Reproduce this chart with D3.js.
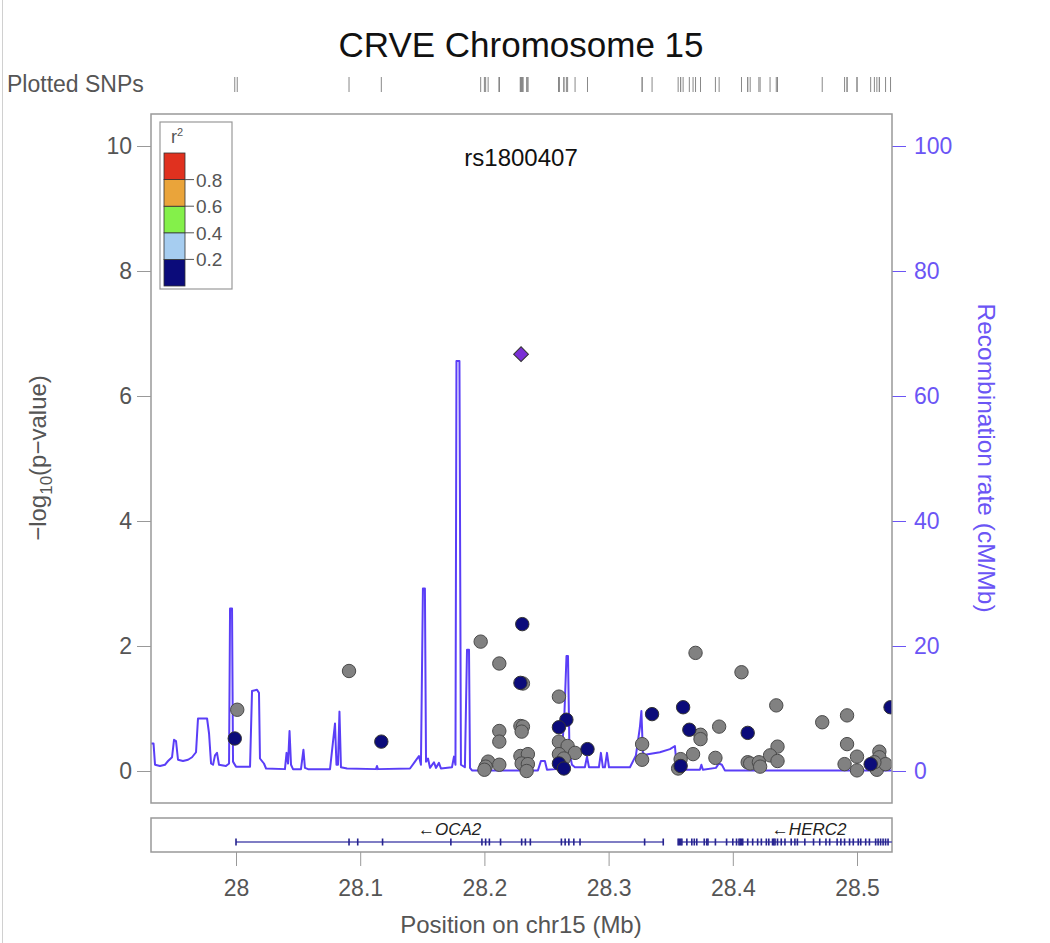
<!DOCTYPE html>
<html><head><meta charset="utf-8">
<script src="https://cdn.jsdelivr.net/npm/d3@7"></script>
<style>
html,body{margin:0;padding:0;background:#fff;}
text{font-family:"Liberation Sans",Arial,sans-serif;}
</style></head>
<body><div id="chart"></div>
<script>
// ---------------- DATA ----------------
const title = "CRVE Chromosome 15";
const leadSnp = {name: "rs1800407", pos: 28.2295, logp: 6.67};
const xTicks = [28, 28.1, 28.2, 28.3, 28.4, 28.5];
const pTicks = [0, 2, 4, 6, 8, 10];
const rTicks = [0, 20, 40, 60, 80, 100];
const legendBreaks = ["0.2", "0.4", "0.6", "0.8"];
const legendColors = ["#0b0b7a", "#a6cdf0", "#84f04a", "#eaa43a", "#e0311f"];

// SNPs with r2 < 0.2 (navy)
const navyPos  = [27.999, 28.117, 28.2305, 28.229, 28.266, 28.260, 28.283, 28.260, 28.264, 28.335, 28.360, 28.365, 28.412, 28.358, 28.511, 28.527];
const navyLogP = [0.52, 0.47, 2.35, 1.41, 0.82, 0.70, 0.35, 0.12, 0.04, 0.91, 1.02, 0.66, 0.61, 0.08, 0.11, 1.02];
// SNPs without LD information (grey)
const greyPos  = [28.001, 28.091, 28.197, 28.212, 28.231, 28.260, 28.212, 28.212, 28.229, 28.231, 28.230, 28.260, 28.267, 28.273, 28.260, 28.264, 28.203, 28.201, 28.200, 28.212, 28.229, 28.235, 28.230, 28.235, 28.234, 28.327, 28.327, 28.370, 28.407, 28.374, 28.374, 28.389, 28.435, 28.436, 28.430, 28.436, 28.368, 28.358, 28.356, 28.386, 28.412, 28.414, 28.421, 28.422, 28.472, 28.492, 28.492, 28.500, 28.490, 28.500, 28.518, 28.518, 28.516, 28.523, 28.514];
const greyLogP = [0.98, 1.60, 2.07, 1.72, 1.40, 1.19, 0.64, 0.47, 0.72, 0.71, 0.63, 0.47, 0.40, 0.29, 0.27, 0.20, 0.15, 0.07, 0.02, 0.10, 0.24, 0.27, 0.12, 0.11, 0.00, 0.43, 0.18, 1.89, 1.58, 0.58, 0.51, 0.71, 1.05, 0.39, 0.25, 0.16, 0.27, 0.19, 0.04, 0.21, 0.14, 0.12, 0.14, 0.07, 0.78, 0.89, 0.43, 0.23, 0.11, 0.01, 0.31, 0.22, 0.02, 0.11, 0.14];

// Recombination rate (cM/Mb)
const recPos = [27.9316, 27.9336, 27.9348, 27.9388, 27.9428, 27.9453, 27.9485, 27.9501, 27.9517, 27.9533, 27.9573, 27.9614, 27.9646, 27.9678, 27.9694, 27.9767, 27.9783, 27.9799, 27.9815, 27.9831, 27.9847, 27.9863, 27.9919, 27.9944, 27.9952, 27.9968, 27.9976, 28.0000, 28.0113, 28.0129, 28.0169, 28.0185, 28.0193, 28.0225, 28.0242, 28.0394, 28.0407, 28.0419, 28.0431, 28.0443, 28.0459, 28.0523, 28.0543, 28.0555, 28.0580, 28.0757, 28.0797, 28.0809, 28.0821, 28.0833, 28.0845, 28.0894, 28.1127, 28.1135, 28.1143, 28.1401, 28.1441, 28.1473, 28.1489, 28.1505, 28.1521, 28.1530, 28.1546, 28.1562, 28.1594, 28.1610, 28.1634, 28.1650, 28.1739, 28.1755, 28.1767, 28.1775, 28.1799, 28.1811, 28.1843, 28.1860, 28.1876, 28.1884, 28.1900, 28.2431, 28.2455, 28.2487, 28.2504, 28.2576, 28.2592, 28.2624, 28.2644, 28.2661, 28.2673, 28.2685, 28.2705, 28.2729, 28.2809, 28.2826, 28.2842, 28.2922, 28.2938, 28.2954, 28.2970, 28.2987, 28.3003, 28.3043, 28.3172, 28.3220, 28.3252, 28.3264, 28.3276, 28.3292, 28.3413, 28.3494, 28.3534, 28.3550, 28.3735, 28.3747, 28.3759, 28.3864, 28.3888, 28.3912, 28.3936, 28.5281];
const recRate = [4.4, 4.4, 1.0, 0.8, 1.0, 1.6, 2.2, 5.0, 4.8, 1.8, 1.6, 1.8, 2.2, 3.0, 8.4, 8.4, 6.0, 1.2, 1.0, 2.5, 2.9, 1.0, 0.8, 1.2, 26.0, 26.0, 1.5, 0.7, 0.7, 12.8, 13.0, 12.5, 2.0, 1.2, 0.4, 0.3, 2.9, 1.2, 6.4, 1.0, 0.3, 0.3, 3.4, 0.5, 0.3, 0.3, 7.6, 1.0, 1.0, 9.5, 0.6, 0.4, 0.3, 0.8, 0.3, 0.4, 1.5, 2.4, 1.0, 29.2, 29.2, 1.5, 2.0, 0.5, 1.4, 0.5, 1.3, 0.4, 0.6, 2.3, 1.0, 65.6, 65.6, 1.0, 0.6, 19.4, 19.4, 0.5, 0.1, 0.1, 1.6, 1.6, 0.2, 0.3, 1.6, 3.0, 9.0, 18.4, 18.4, 3.0, 1.0, 0.6, 0.6, 2.3, 0.6, 0.6, 2.9, 0.6, 0.6, 2.9, 0.6, 0.6, 0.6, 2.5, 7.0, 9.6, 3.0, 2.6, 3.0, 3.5, 4.0, 0.2, 0.2, 1.0, 0.2, 0.5, 1.2, 1.0, 0.1, 0.1];

// Genes
const geneNames  = ["OCA2", "HERC2"];
const geneStarts = [28.000, 28.356];
const geneEnds   = [28.344, 28.567];
const oca2Exons  = [28.000, 28.091, 28.098, 28.118, 28.173, 28.198, 28.201, 28.204, 28.213, 28.230, 28.233, 28.237, 28.262, 28.265, 28.268, 28.272, 28.277, 28.329, 28.344];
const herc2Exons = [28.356, 28.357, 28.358, 28.359, 28.363, 28.367, 28.369, 28.371, 28.377, 28.379, 28.380, 28.386, 28.395, 28.400, 28.403, 28.405, 28.406, 28.407, 28.408, 28.412, 28.416, 28.420, 28.423, 28.427, 28.429, 28.432, 28.433, 28.434, 28.436, 28.439, 28.442, 28.447, 28.450, 28.452, 28.458, 28.465, 28.470, 28.475, 28.478, 28.484, 28.487, 28.490, 28.494, 28.497, 28.501, 28.503, 28.507, 28.510, 28.515, 28.517, 28.519, 28.521, 28.523, 28.525];

// ---------------- DRAW ----------------
const W = 1050, H = 943;
const L = 151, R = 892, T = 114, B = 803;
const recColor = "#5a3ef7", recText = "#6b55f5", axisText = "#555";
const FF = "Liberation Sans, Arial, sans-serif";

const svg = d3.select("#chart").append("svg").attr("width", W).attr("height", H);
svg.append("rect").attr("width", W).attr("height", H).attr("fill", "#fff");
svg.append("line").attr("x1", 2.5).attr("x2", 2.5).attr("y1", 0).attr("y2", H).attr("stroke", "#d0d0d0");

const x = d3.scaleLinear().domain([27.93156, 28.52818]).range([L, R]);
const yP = d3.scaleLinear().domain([-0.512, 10.512]).range([B, T]);
const yR = d3.scaleLinear().domain([-5.12, 105.12]).range([B, T]);

// title
svg.append("text").attr("x", 521).attr("y", 57).attr("text-anchor", "middle")
  .attr("font-size", 35).attr("fill", "#111").text(title);

// plotted SNPs rug
svg.append("text").attr("x", 7).attr("y", 92).attr("font-size", 23).attr("fill", "#555").text("Plotted SNPs");
const allPos = greyPos.concat(navyPos, [leadSnp.pos]);
svg.append("g").selectAll("line").data(allPos).join("line")
  .attr("x1", d => x(d)).attr("x2", d => x(d)).attr("y1", 77).attr("y2", 92)
  .attr("stroke", "#888").attr("stroke-width", 1);

// clip
svg.append("clipPath").attr("id", "clip").append("rect").attr("x", L).attr("y", T).attr("width", R - L).attr("height", B - T);

// left axis
const gL = svg.append("g").attr("transform", `translate(${L},0)`)
  .call(d3.axisLeft(yP).tickValues(pTicks).tickSize(14).tickPadding(5));
gL.select(".domain").remove();
gL.selectAll("line").attr("stroke", "#999");
gL.selectAll("text").attr("font-size", 23).attr("fill", axisText).style("font-family", FF);

// right axis
const gR = svg.append("g").attr("transform", `translate(${R},0)`)
  .call(d3.axisRight(yR).tickValues(rTicks).tickSize(14).tickPadding(8));
gR.select(".domain").remove();
gR.selectAll("line").attr("stroke", recText);
gR.selectAll("text").attr("font-size", 23).attr("fill", recText).style("font-family", FF);

// axis titles
const yl = svg.append("text").attr("transform", "translate(46,458) rotate(-90)")
  .attr("text-anchor", "middle").attr("font-size", 24).attr("fill", axisText);
yl.append("tspan").text("\u2212log");
yl.append("tspan").attr("font-size", 17).attr("dy", 6).text("10");
yl.append("tspan").attr("dy", -6).text("(p\u2212value)");

svg.append("text").attr("transform", "translate(978,458) rotate(90)")
  .attr("text-anchor", "middle").attr("font-size", 24.5).attr("fill", recText)
  .text("Recombination rate (cM/Mb)");

// recombination line
const recData = recPos.map((p, i) => [p, recRate[i]]);
svg.append("path").datum(recData).attr("clip-path", "url(#clip)")
  .attr("fill", "none").attr("stroke", recColor).attr("stroke-width", 2).attr("stroke-linejoin", "round")
  .attr("d", d3.line().x(d => x(d[0])).y(d => yR(d[1])));

// points
const gPts = svg.append("g").attr("clip-path", "url(#clip)");
gPts.selectAll("circle.g").data(greyPos.map((p, i) => [p, greyLogP[i]])).join("circle")
  .attr("class", "g").attr("cx", d => x(d[0])).attr("cy", d => yP(d[1])).attr("r", 6.7)
  .attr("fill", "#818181").attr("stroke", "#4a4a4a").attr("stroke-width", 1);
gPts.selectAll("circle.n").data(navyPos.map((p, i) => [p, navyLogP[i]])).join("circle")
  .attr("class", "n").attr("cx", d => x(d[0])).attr("cy", d => yP(d[1])).attr("r", 6.7)
  .attr("fill", legendColors[0]).attr("stroke", "#333").attr("stroke-width", 1);
gPts.append("path").attr("d", d3.symbol(d3.symbolSquare, 110)())
  .attr("transform", `translate(${x(leadSnp.pos)},${yP(leadSnp.logp)}) rotate(45)`)
  .attr("fill", "#7a2fd6").attr("stroke", "#333").attr("stroke-width", 1);

// lead label
svg.append("text").attr("x", x(leadSnp.pos)).attr("y", 166).attr("text-anchor", "middle")
  .attr("font-size", 24).attr("fill", "#111").text(leadSnp.name);

// plot box
svg.append("rect").attr("x", L).attr("y", T).attr("width", R - L).attr("height", B - T)
  .attr("fill", "none").attr("stroke", "#999").attr("stroke-width", 1.5);

// legend
const lg = svg.append("g");
lg.append("rect").attr("x", 160).attr("y", 122).attr("width", 72).attr("height", 167)
  .attr("fill", "#fff").attr("stroke", "#999").attr("stroke-width", 1.2);
const lt = lg.append("text").attr("x", 171).attr("y", 143).attr("font-size", 18).attr("fill", "#555");
lt.append("tspan").text("r");
lt.append("tspan").attr("font-size", 11).attr("dy", -7).text("2");
const ly = d3.scaleLinear().domain([0, 1]).range([286, 153]);
lg.selectAll("rect.c").data(legendColors).join("rect").attr("class", "c")
  .attr("x", 164).attr("y", (d, i) => ly((i + 1) / 5)).attr("width", 21)
  .attr("height", (d, i) => ly(i / 5) - ly((i + 1) / 5))
  .attr("fill", d => d).attr("stroke", "#333").attr("stroke-width", 0.8);
lg.selectAll("line.t").data(legendBreaks).join("line").attr("class", "t")
  .attr("x1", 185).attr("x2", 194).attr("y1", (d, i) => ly((i + 1) / 5)).attr("y2", (d, i) => ly((i + 1) / 5))
  .attr("stroke", "#555");
lg.selectAll("text.l").data(legendBreaks).join("text").attr("class", "l")
  .attr("x", 196).attr("y", (d, i) => ly((i + 1) / 5) + 7).attr("font-size", 19).attr("fill", "#555").text(d => d);

// gene track
const GT = 818, GB = 852, gy = 842;
svg.append("rect").attr("x", L).attr("y", GT).attr("width", R - L).attr("height", GB - GT)
  .attr("fill", "none").attr("stroke", "#999").attr("stroke-width", 1.5);
svg.append("clipPath").attr("id", "gclip").append("rect").attr("x", L).attr("y", GT).attr("width", R - L).attr("height", GB - GT);
const gg = svg.append("g").attr("clip-path", "url(#gclip)");
const geneColor = "#26238f";
gg.selectAll("line.gene").data(geneNames).join("line").attr("class", "gene")
  .attr("x1", (d, i) => x(geneStarts[i])).attr("x2", (d, i) => x(geneEnds[i]))
  .attr("y1", gy).attr("y2", gy).attr("stroke", "#5552b0").attr("stroke-width", 1.3);
gg.selectAll("rect.ex").data(oca2Exons.concat(herc2Exons)).join("rect").attr("class", "ex")
  .attr("x", d => x(d) - 0.8).attr("width", 1.6).attr("y", gy - 3.5).attr("height", 7).attr("fill", geneColor);
geneNames.forEach((g, i) => {
  const cx = x((geneStarts[i] + geneEnds[i]) / 2);
  svg.append("text").attr("x", cx).attr("y", 835).attr("text-anchor", "middle")
    .attr("font-size", 17).attr("font-style", "italic").attr("fill", "#222")
    .text("\u2190" + g);
});

// bottom axis
const gB = svg.append("g").attr("transform", `translate(0,${GB})`)
  .call(d3.axisBottom(x).tickValues(xTicks).tickFormat(d => String(d)).tickSize(14).tickPadding(14));
gB.select(".domain").remove();
gB.selectAll("line").attr("stroke", "#999");
gB.selectAll("text").attr("font-size", 23).attr("fill", axisText).style("font-family", FF);
svg.append("text").attr("x", 521).attr("y", 933).attr("text-anchor", "middle").attr("font-size", 24)
  .attr("fill", axisText).text("Position on chr15 (Mb)");
</script></body></html>
